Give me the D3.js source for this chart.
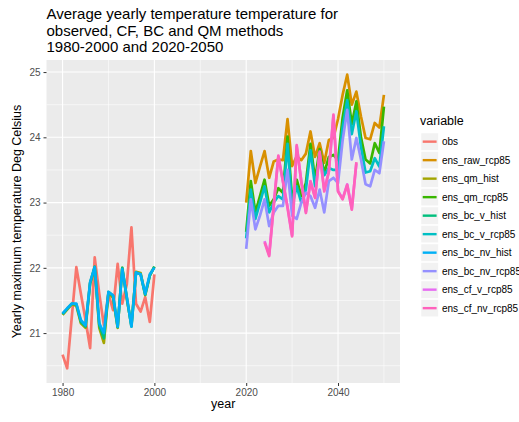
<!DOCTYPE html>
<html>
<head>
<meta charset="utf-8">
<script src="https://cdn.jsdelivr.net/npm/d3@7"></script>
<style>
  body { margin: 0; background: #fff; }
  svg { display: block; font-family: "Liberation Sans", Arial, sans-serif; }
</style>
</head>
<body>
<svg id="chart" width="519" height="422"></svg>
<script>
// --- data ---
const histYears = d3.range(1980, 2001);
const rcpYears = d3.range(2020, 2051);
const cfYears = d3.range(2024, 2045);

const obs = [20.67, 20.46, 21.24, 22.01, 21.60, 21.20, 20.77, 22.16, 21.60, 21.12, 21.60,
  21.35, 22.06, 21.45, 21.75, 22.62, 21.45, 21.33, 21.55, 21.17, 21.90];

const ensQmHist = [21.28, 21.36, 21.44, 21.42, 21.15, 21.08, 21.76, 21.99, 21.08, 20.85, 21.62,
  21.54, 21.08, 22.00, 21.52, 21.12, 21.94, 21.92, 21.58, 21.88, 22.02];
const ensBcVHist = [21.29, 21.37, 21.45, 21.44, 21.17, 21.10, 21.77, 22.02, 21.12, 20.92, 21.63,
  21.57, 21.09, 22.00, 21.54, 21.10, 21.93, 21.90, 21.59, 21.88, 22.02];
const ensBcNvHist = [21.30, 21.38, 21.45, 21.45, 21.20, 21.12, 21.78, 22.01, 21.15, 21.00, 21.63,
  21.58, 21.10, 21.98, 21.55, 21.10, 21.93, 21.90, 21.60, 21.90, 22.00];

const ensRawRcp85 = [23.00, 23.79, 23.30, 23.55, 23.79, 23.38, 23.63, 23.66, 23.65, 24.28, 23.56,
  23.71, 23.65, 23.75, 24.09, 23.70, 23.91, 23.61, 23.96, 23.99, 24.28, 24.65, 24.96, 24.50,
  24.70, 24.32, 23.99, 23.97, 24.22, 24.15, 24.65];
const ensQmRcp85 = [22.55, 23.33, 22.85, 23.10, 23.35, 22.95, 23.05, 23.22, 23.15, 24.01, 23.05,
  23.35, 23.10, 23.30, 23.90, 23.35, 23.82, 23.45, 23.70, 23.73, 23.65, 24.30, 24.72, 24.20,
  24.55, 24.00, 23.66, 23.60, 23.91, 23.76, 24.47];
const ensBcVRcp85 = [22.45, 23.20, 22.75, 23.00, 23.25, 22.85, 23.00, 23.10, 23.05, 23.90, 22.95,
  23.25, 23.00, 23.20, 23.80, 23.25, 23.70, 23.42, 23.53, 23.50, 23.50, 24.15, 24.57, 24.05,
  24.40, 23.85, 23.46, 23.48, 23.68, 23.55, 24.17];
const ensBcNvRcp85 = [22.29, 23.05, 22.59, 22.80, 23.05, 22.64, 22.85, 22.95, 22.95, 23.50, 22.80,
  22.75, 23.00, 23.15, 23.10, 22.92, 23.20, 22.85, 23.33, 23.38, 23.30, 23.95, 24.42, 23.66,
  23.99, 23.66, 23.28, 23.25, 23.50, 23.45, 23.94];
const ensCfVRcp85 = [22.41, 22.20, 22.97, 23.70, 23.33, 22.94, 22.50, 23.86, 23.33, 22.86, 23.33,
  23.08, 23.76, 23.19, 23.48, 24.33, 23.18, 23.06, 23.28, 22.91, 23.60];
const ensCfNvRcp85 = [22.39, 22.18, 22.95, 23.72, 23.32, 22.92, 22.48, 23.88, 23.32, 22.84, 23.32,
  23.07, 23.78, 23.17, 23.47, 24.35, 23.17, 23.05, 23.27, 22.89, 23.62];

const seriesNames = ["obs", "ens_raw_rcp85", "ens_qm_hist", "ens_qm_rcp85", "ens_bc_v_hist",
  "ens_bc_v_rcp85", "ens_bc_nv_hist", "ens_bc_nv_rcp85", "ens_cf_v_rcp85", "ens_cf_nv_rcp85"];
const seriesColors = ["#F8766D", "#D89000", "#A3A500", "#39B600", "#00BF7D",
  "#00BFC4", "#00B0F6", "#9590FF", "#E76BF3", "#FF62BC"];

const xTicks = [1980, 2000, 2020, 2040];
const xMinor = [1990, 2010, 2030, 2050];
const yTicks = [21, 22, 23, 24, 25];
const yMinor = [20.5, 21.5, 22.5, 23.5, 24.5];

// --- build series table ---
const series = [
  { years: histYears, values: obs },
  { years: rcpYears, values: ensRawRcp85 },
  { years: histYears, values: ensQmHist },
  { years: rcpYears, values: ensQmRcp85 },
  { years: histYears, values: ensBcVHist },
  { years: rcpYears, values: ensBcVRcp85 },
  { years: histYears, values: ensBcNvHist },
  { years: rcpYears, values: ensBcNvRcp85 },
  { years: cfYears, values: ensCfVRcp85 },
  { years: cfYears, values: ensCfNvRcp85 }
].map((s, i) => ({
  name: seriesNames[i],
  color: seriesColors[i],
  points: s.years.map((yr, j) => ({ year: yr, value: s.values[j] }))
}));

const svg = d3.select("#chart");
const panel = { left: 46.5, right: 400, top: 60, bottom: 383 };

const allVals = series.flatMap(s => s.points.map(p => p.value));
const yMin = d3.min(allVals), yMax = d3.max(allVals);
const yPad = (yMax - yMin) * 0.05;

const x = d3.scaleLinear()
  .domain([1976.5, 2053.5])
  .range([panel.left, panel.right]);
const y = d3.scaleLinear()
  .domain([yMin - yPad, yMax + yPad])
  .range([panel.bottom, panel.top]);

// panel background
svg.append("rect")
  .attr("x", panel.left).attr("y", panel.top)
  .attr("width", panel.right - panel.left)
  .attr("height", panel.bottom - panel.top)
  .attr("fill", "#EBEBEB");

// grid lines
const grid = svg.append("g");
grid.selectAll(".ymin").data(yMinor).enter().append("line")
  .attr("x1", panel.left).attr("x2", panel.right)
  .attr("y1", d => y(d)).attr("y2", d => y(d))
  .attr("stroke", "#fff").attr("stroke-width", 0.55);
grid.selectAll(".xmin").data(xMinor).enter().append("line")
  .attr("y1", panel.top).attr("y2", panel.bottom)
  .attr("x1", d => x(d)).attr("x2", d => x(d))
  .attr("stroke", "#fff").attr("stroke-width", 0.55);
grid.selectAll(".ymaj").data(yTicks).enter().append("line")
  .attr("x1", panel.left).attr("x2", panel.right)
  .attr("y1", d => y(d)).attr("y2", d => y(d))
  .attr("stroke", "#fff").attr("stroke-width", 1.1);
grid.selectAll(".xmaj").data(xTicks).enter().append("line")
  .attr("y1", panel.top).attr("y2", panel.bottom)
  .attr("x1", d => x(d)).attr("x2", d => x(d))
  .attr("stroke", "#fff").attr("stroke-width", 1.1);

// lines
const line = d3.line().x(d => x(d.year)).y(d => y(d.value));
svg.append("g").selectAll("path")
  .data(series).enter().append("path")
  .attr("d", d => line(d.points))
  .attr("fill", "none")
  .attr("stroke", d => d.color)
  .attr("stroke-width", 2.7)
  .attr("stroke-linejoin", "round");

// axes
const xAxis = svg.append("g")
  .attr("transform", `translate(0,${panel.bottom})`)
  .call(d3.axisBottom(x).tickValues(xTicks).tickFormat(d3.format("d")).tickSize(3).tickPadding(3));
const yAxis = svg.append("g")
  .attr("transform", `translate(${panel.left},0)`)
  .call(d3.axisLeft(y).tickValues(yTicks).tickFormat(d3.format("d")).tickSize(3).tickPadding(3));
[xAxis, yAxis].forEach(ax => {
  ax.select(".domain").remove();
  ax.selectAll(".tick line").attr("stroke", "#333").attr("stroke-width", 1);
  ax.selectAll(".tick text")
    .attr("fill", "#4D4D4D")
    .style("font-size", "10px")
    .style("font-family", "'Liberation Sans', Arial, sans-serif");
});

// axis titles
svg.append("text")
  .attr("x", (panel.left + panel.right) / 2).attr("y", 408)
  .attr("text-anchor", "middle")
  .style("font-size", "12.5px")
  .text("year");
svg.append("text")
  .attr("transform", `translate(21,${(panel.top + panel.bottom) / 2}) rotate(-90)`)
  .attr("text-anchor", "middle")
  .style("font-size", "12.5px")
  .text("Yearly maximum temperature Deg Celsius");

// title
const titleLines = ["Average yearly temperature temperature for",
  "observed, CF, BC and QM methods", "1980-2000 and 2020-2050"];
svg.append("g").selectAll("text")
  .data(titleLines).enter().append("text")
  .attr("x", panel.left).attr("y", (d, i) => 19 + i * 16.5)
  .style("font-size", "15px")
  .text(d => d);

// legend (the right edge of the window clips the longest labels, as in the source)
const legend = svg.append("g");
legend.append("text")
  .attr("x", 420).attr("y", 124.5)
  .style("font-size", "12.5px")
  .text("variable");
const rows = legend.selectAll(".row").data(series).enter().append("g")
  .attr("transform", (d, i) => `translate(421,${133 + i * 18.5})`);
rows.append("rect")
  .attr("width", 17.3).attr("height", 17.3)
  .attr("fill", "#F2F2F2").attr("stroke", "#fff").attr("stroke-width", 0.5);
rows.append("line")
  .attr("x1", 1.7).attr("x2", 15.6)
  .attr("y1", 8.65).attr("y2", 8.65)
  .attr("stroke", d => d.color).attr("stroke-width", 2.4);
rows.append("text")
  .attr("x", 21).attr("y", 12.3)
  .style("font-size", "10px")
  .text(d => d.name);
</script>
</body>
</html>
